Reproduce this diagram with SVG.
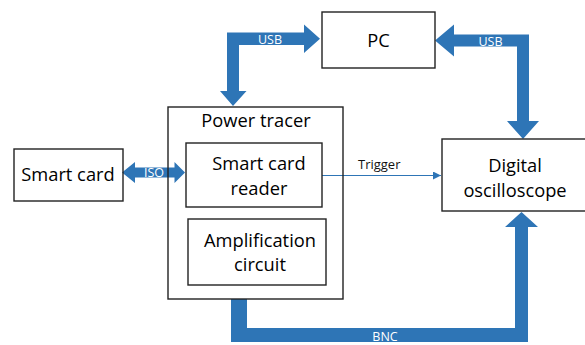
<svg xmlns="http://www.w3.org/2000/svg" width="585" height="345" viewBox="0 0 585 345">
  <style>
    .box { fill: none; stroke: #222; stroke-width: 1.4; }
    .lbl { font-family: "Open Sans", "Liberation Sans", sans-serif; font-size: 18.3px; fill: #000; text-anchor: middle; }
    .bus { fill: #2E75B6; }
    .buslbl { font-family: "Open Sans", "Liberation Sans", sans-serif; font-size: 12.5px; fill: #fff; text-anchor: middle; }
    .sig { stroke: #2E75B6; stroke-width: 1.2; fill: none; }
    .siglbl { font-family: "Open Sans", "Liberation Sans", sans-serif; font-size: 13px; fill: #111; }
  </style>
  <defs>
    <marker id="tri" viewBox="0 0 10 10" refX="10" refY="5" markerWidth="9" markerHeight="8" markerUnits="userSpaceOnUse" orient="auto">
      <path d="M0,0 L10,5 L0,10 Z" fill="#2E75B6"/>
    </marker>
  </defs>
  <rect width="585" height="345" fill="#fff"/>
  <g id="connectors">
    <g id="usb-left">
      <polygon class="bus" points="320,38.7 304,24.5 304,32.5 227,32.5 227,91 220,91 233,106 246.5,91 239,91 239,45 304,45 304,53"/>
      <text class="buslbl" x="270" y="43.5">USB</text>
    </g>
    <g id="usb-right">
      <polygon class="bus" points="435,40.5 454,24.5 454,34.5 529,34.5 529,121 539,121 523,139 507,121 517,121 517,46.5 454,46.5 454,56.5"/>
      <text class="buslbl" x="490.5" y="45.5">USB</text>
    </g>
    <g id="iso">
      <polygon class="bus" points="122,172.5 135,162 135,167.5 174.5,167.5 174.5,162 185,172.5 174.5,183 174.5,177.5 135,177.5 135,183"/>
      <text class="buslbl" x="154" y="177">ISO</text>
    </g>
    <g id="bnc">
      <polygon class="bus" points="231,299 247,299 247,328 515,328 515,227 505,227 521.5,212 538,227 528,227 528,342 231,342"/>
      <text class="buslbl" x="385" y="340.5">BNC</text>
    </g>
    <g id="trigger">
      <line class="sig" x1="322" y1="175.5" x2="441" y2="175.5" marker-end="url(#tri)"/>
      <text class="siglbl" x="358" y="169">Trigger</text>
    </g>
  </g>
  <g id="pc">
    <rect class="box" x="322" y="12" width="113" height="56"/>
    <text class="lbl" x="378.5" y="47">PC</text>
  </g>
  <g id="smart-card">
    <rect class="box" x="14" y="149" width="109" height="52"/>
    <text class="lbl" x="68" y="181">Smart card</text>
  </g>
  <g id="power-tracer">
    <rect class="box" x="168" y="107" width="175" height="192"/>
    <text class="lbl" x="256" y="127">Power tracer</text>
  </g>
  <g id="smart-card-reader">
    <rect class="box" x="186" y="143" width="136" height="64"/>
    <text class="lbl" x="259" y="170">Smart card</text>
    <text class="lbl" x="259" y="195">reader</text>
  </g>
  <g id="amplification-circuit">
    <rect class="box" x="188" y="219" width="138" height="66"/>
    <text class="lbl" x="260" y="247">Amplification</text>
    <text class="lbl" x="260" y="271">circuit</text>
  </g>
  <g id="digital-oscilloscope">
    <rect class="box" x="442" y="139" width="150" height="72"/>
    <text class="lbl" x="515" y="172">Digital</text>
    <text class="lbl" x="515" y="197">oscilloscope</text>
  </g>
</svg>
